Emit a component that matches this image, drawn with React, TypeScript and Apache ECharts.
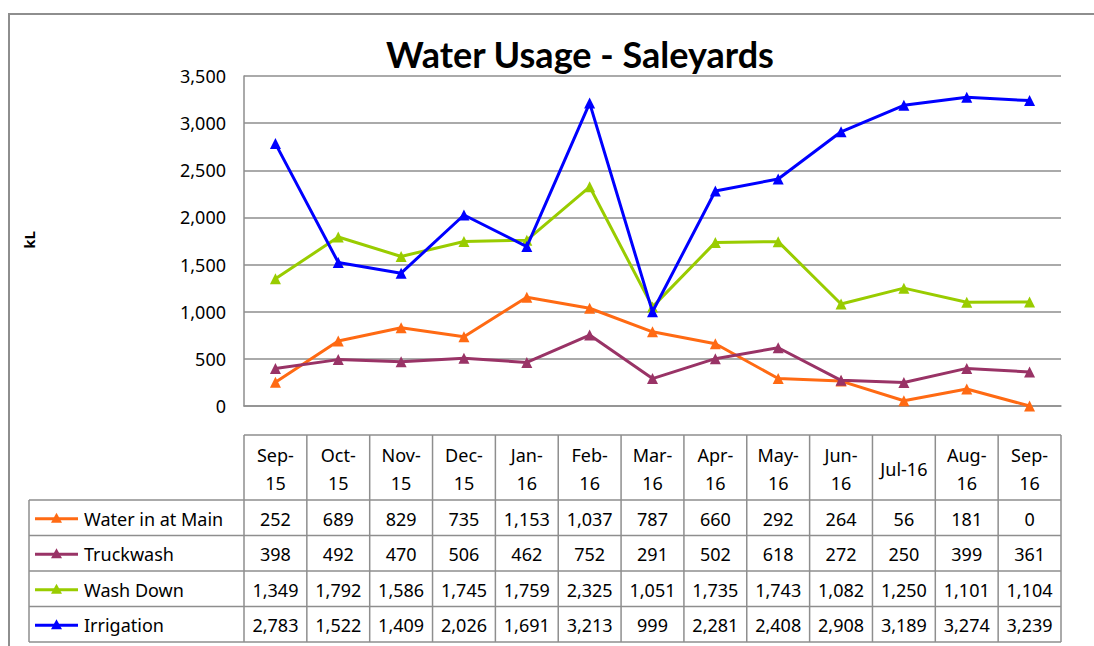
import React, { useEffect, useRef } from "react";
import * as echarts from "echarts";

const categories = ["Sep-15", "Oct-15", "Nov-15", "Dec-15", "Jan-16", "Feb-16", "Mar-16", "Apr-16", "May-16", "Jun-16", "Jul-16", "Aug-16", "Sep-16"];
const headerLabels = ["Sep-\n15", "Oct-\n15", "Nov-\n15", "Dec-\n15", "Jan-\n16", "Feb-\n16", "Mar-\n16", "Apr-\n16", "May-\n16", "Jun-\n16", "Jul-16", "Aug-\n16", "Sep-\n16"];

const waterInAtMain = [252, 689, 829, 735, 1153, 1037, 787, 660, 292, 264, 56, 181, 0];
const truckwash = [398, 492, 470, 506, 462, 752, 291, 502, 618, 272, 250, 399, 361];
const washDown = [1349, 1792, 1586, 1745, 1759, 2325, 1051, 1735, 1743, 1082, 1250, 1101, 1104];
const irrigation = [2783, 1522, 1409, 2026, 1691, 3213, 999, 2281, 2408, 2908, 3189, 3274, 3239];

const seriesNames = ["Water in at Main", "Truckwash", "Wash Down", "Irrigation"];
const seriesData = [waterInAtMain, truckwash, washDown, irrigation];
const seriesColors = ["#FF6A13", "#993366", "#99CC00", "#0000FF"];

const yTicks = { min: 0, max: 3500, interval: 500 };

const FONT = "'Noto Sans', 'Open Sans', sans-serif";
const TITLE_FONT = "Lato, 'Noto Sans', sans-serif";
const W = 1094;
const H = 646;
const PLOT_L = 244;
const PLOT_R = 1061;
const PLOT_T = 76;
const PLOT_B = 406;
const TABLE_T = 435;
const HEADER_B = 500;
const ROW_H = 35.5;
const LEGEND_L = 29;
const GRID_COLOR = "#8e8e8e";
const TXT = 18;

const fmt = (v: number) => v.toLocaleString("en-US");

export default function App() {
  const ref = useRef<HTMLDivElement>(null);
  useEffect(() => {
    if (!ref.current) return;
    const chart = echarts.init(ref.current, undefined, { renderer: "svg" });
    const n = categories.length;
    const colW = (PLOT_R - PLOT_L) / n;
    const graphics: any[] = [];

    // outer frame
    graphics.push({
      type: "rect",
      shape: { x: 9, y: 14, width: W + 20, height: H + 20 },
      style: { fill: "none", stroke: GRID_COLOR, lineWidth: 2 },
      silent: true,
    });
    // title
    graphics.push({
      type: "text",
      x: 580,
      y: 54,
      style: { text: "Water Usage - Saleyards", font: `bold 36px ${TITLE_FONT}`, fill: "#000", align: "center", verticalAlign: "middle" },
    });
    // y axis name
    graphics.push({
      type: "text",
      x: 29,
      y: 240,
      rotation: Math.PI / 2,
      style: { text: "kL", font: `bold 15px ${FONT}`, fill: "#000", align: "center", verticalAlign: "middle" },
    });

    const tableBottom = HEADER_B + ROW_H * seriesData.length;
    const lineStyle = { stroke: GRID_COLOR, lineWidth: 1.5 };
    graphics.push({ type: "line", shape: { x1: PLOT_L, y1: TABLE_T, x2: PLOT_R, y2: TABLE_T }, style: lineStyle });
    for (let r = 0; r <= seriesData.length; r++) {
      const y = HEADER_B + r * ROW_H;
      graphics.push({ type: "line", shape: { x1: LEGEND_L, y1: y, x2: PLOT_R, y2: y }, style: lineStyle });
    }
    graphics.push({ type: "line", shape: { x1: LEGEND_L, y1: HEADER_B, x2: LEGEND_L, y2: tableBottom }, style: lineStyle });
    for (let c = 0; c <= n; c++) {
      const x = PLOT_L + c * colW;
      graphics.push({ type: "line", shape: { x1: x, y1: TABLE_T, x2: x, y2: tableBottom }, style: lineStyle });
    }
    headerLabels.forEach((lab, i) => {
      graphics.push({
        type: "text",
        x: PLOT_L + (i + 0.5) * colW,
        y: (TABLE_T + HEADER_B) / 2 + 1,
        style: { text: lab, font: `${TXT}px ${FONT}`, fill: "#000", align: "center", verticalAlign: "middle", lineHeight: 28 },
      });
    });
    seriesData.forEach((arr, r) => {
      const cy = HEADER_B + (r + 0.5) * ROW_H + 1;
      graphics.push({ type: "line", shape: { x1: 35, y1: cy, x2: 78, y2: cy }, style: { stroke: seriesColors[r], lineWidth: 3 } });
      graphics.push({ type: "polygon", shape: { points: [[56.5, cy - 6], [51, cy + 4], [62, cy + 4]] }, style: { fill: seriesColors[r] } });
      graphics.push({
        type: "text",
        x: 84,
        y: cy,
        style: { text: seriesNames[r], font: `${TXT}px ${FONT}`, fill: "#000", align: "left", verticalAlign: "middle" },
      });
      arr.forEach((v, i) => {
        graphics.push({
          type: "text",
          x: PLOT_L + (i + 0.5) * colW,
          y: cy,
          style: { text: fmt(v), font: `${TXT}px ${FONT}`, fill: "#000", align: "center", verticalAlign: "middle" },
        });
      });
    });

    chart.setOption({
      animation: false,
      backgroundColor: "#fff",
      grid: { left: PLOT_L, right: W - PLOT_R, top: PLOT_T, bottom: H - PLOT_B, containLabel: false },
      xAxis: {
        type: "category",
        data: categories,
        boundaryGap: true,
        axisLine: { show: true, lineStyle: { color: GRID_COLOR, width: 1.5 } },
        axisTick: { show: false },
        axisLabel: { show: false },
      },
      yAxis: {
        type: "value",
        min: yTicks.min,
        max: yTicks.max,
        interval: yTicks.interval,
        axisLine: { show: true, lineStyle: { color: GRID_COLOR, width: 1.5 } },
        axisTick: { show: false },
        splitLine: { show: true, lineStyle: { color: GRID_COLOR, width: 1.5 } },
        axisLabel: {
          formatter: (v: number) => fmt(v),
          fontFamily: FONT,
          fontSize: TXT,
          color: "#000",
          margin: 18,
        },
      },
      series: seriesNames.map((name, k) => ({
        name,
        type: "line",
        data: seriesData[k],
        symbol: "triangle",
        symbolSize: 11,
        showSymbol: true,
        lineStyle: { color: seriesColors[k], width: 3 },
        itemStyle: { color: seriesColors[k] },
        z: 2 + k,
      })),
      graphic: graphics,
    });
    return () => chart.dispose();
  }, []);
  return <div ref={ref} style={{ position: "fixed", left: 0, top: 0, width: W, height: H }} />;
}
